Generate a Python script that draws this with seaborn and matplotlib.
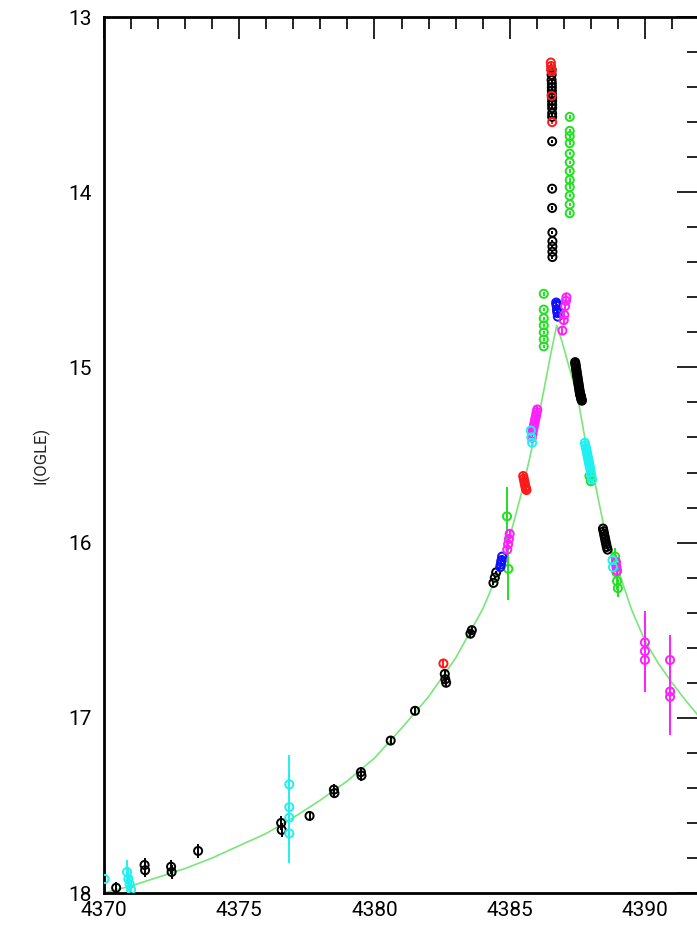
import matplotlib
matplotlib.use("Agg")
import matplotlib.pyplot as plt
import seaborn as sns
from matplotlib.ticker import MultipleLocator

# model light curve
t_model = [4370, 4371, 4372, 4373, 4374, 4375, 4376, 4377, 4378, 4379, 4380, 4381, 4382,
           4383, 4383.5, 4384, 4384.5, 4385, 4385.5, 4386, 4386.3, 4386.55, 4386.74,
           4386.95, 4387.2, 4387.5, 4387.8, 4388.1, 4388.5, 4389, 4389.5, 4390, 4390.5,
           4391, 4391.5, 4392.2]
m_model = [18.00, 17.96, 17.91, 17.86, 17.80, 17.73, 17.66, 17.57, 17.47, 17.36, 17.23, 17.06, 16.88,
           16.66, 16.52, 16.38, 16.20, 15.97, 15.68, 15.34, 15.10, 14.90, 14.76,
           14.86, 15.00, 15.16, 15.42, 15.62, 15.92, 16.15, 16.38, 16.56, 16.69,
           16.80, 16.90, 17.03]

# black
t_black = [4370.45, 4371.5, 4371.52, 4372.48, 4372.5, 4373.48, 4376.55, 4376.57, 4377.6, 4378.5,
           4378.52, 4379.5, 4379.52, 4380.6, 4381.5, 4382.6, 4382.62, 4382.65, 4383.55, 4383.6,
           4384.4, 4384.45, 4384.5,
           4386.55, 4386.55, 4386.55, 4386.56, 4386.56, 4386.56, 4386.56, 4386.57, 4386.57, 4386.57,
           4386.57, 4386.57, 4386.57, 4386.57, 4386.57, 4386.57, 4386.58, 4386.58, 4386.58, 4386.58, 4386.58,
           4387.42, 4387.43, 4387.44, 4387.45, 4387.46, 4387.47, 4387.48, 4387.49, 4387.5, 4387.51,
           4387.52, 4387.53, 4387.54, 4387.55, 4387.56, 4387.57, 4387.58, 4387.59, 4387.6, 4387.61,
           4387.62, 4387.63, 4387.64, 4387.65, 4387.66, 4387.67,
           4388.45, 4388.47, 4388.49, 4388.51, 4388.53, 4388.55, 4388.57, 4388.59, 4388.62]
m_black = [17.97, 17.84, 17.87, 17.85, 17.88, 17.76, 17.60, 17.64, 17.56, 17.41,
           17.43, 17.31, 17.33, 17.13, 16.96, 16.75, 16.78, 16.80, 16.52, 16.50,
           16.23, 16.20, 16.17,
           13.30, 13.33, 13.36, 13.38, 13.40, 13.42, 13.44, 13.46, 13.48, 13.50,
           13.52, 13.55, 13.57, 13.71, 13.98, 14.09, 14.23, 14.28, 14.31, 14.34, 14.37,
           14.97, 14.98, 14.99, 15.00, 15.01, 15.02, 15.03, 15.04, 15.05, 15.06,
           15.07, 15.08, 15.09, 15.10, 15.11, 15.12, 15.13, 15.14, 15.15, 15.155,
           15.16, 15.165, 15.17, 15.18, 15.185, 15.19,
           15.92, 15.935, 15.95, 15.965, 15.98, 15.995, 16.01, 16.025, 16.04]
e_black = [0.03, 0.04, 0.04, 0.04, 0.04, 0.04, 0.04, 0.04, 0.03, 0.03,
           0.03, 0.03, 0.03, 0.02, 0.02, 0.02, 0.02, 0.02, 0.02, 0.02,
           0.01, 0.01, 0.01] + [0.01] * 21 + [0.01] * 26 + [0.01] * 9

# red
t_red = [4382.55, 4385.5, 4385.52, 4385.54, 4385.56, 4385.58, 4385.6, 4385.62,
         4386.52, 4386.53, 4386.54, 4386.55, 4386.55, 4386.57]
m_red = [16.69, 15.62, 15.635, 15.65, 15.665, 15.68, 15.69, 15.70,
         13.26, 13.28, 13.30, 13.31, 13.45, 13.60]
e_red = [0.02] * 8 + [0.01] * 6

# green
t_green = [4387.22] * 12 + [4386.26] * 7 + [4384.9, 4384.95, 4387.95, 4388.0,
                                             4388.9, 4388.92, 4388.95, 4388.97, 4389.0]
m_green = [13.57, 13.65, 13.68, 13.72, 13.78, 13.83, 13.88, 13.93, 13.97, 14.02, 14.07, 14.12,
           14.58, 14.67, 14.72, 14.76, 14.80, 14.84, 14.88,
           15.85, 16.15, 15.62, 15.65,
           16.08, 16.12, 16.17, 16.22, 16.26]
e_green = [0.01] * 19 + [0.17, 0.18, 0.02, 0.02, 0.05, 0.05, 0.05, 0.05, 0.05]

# blue
t_blue = [4386.72, 4386.73, 4386.74, 4386.75, 4386.76, 4386.77, 4386.78,
          4384.65, 4384.67, 4384.69, 4384.7, 4384.72]
m_blue = [14.63, 14.64, 14.65, 14.67, 14.68, 14.69, 14.71,
          16.14, 16.125, 16.11, 16.10, 16.08]
e_blue = [0.01] * 12

# magenta
t_mag = [4387.0, 4387.02, 4387.05, 4387.08, 4387.1, 4386.95,
         4386.02, 4386.0, 4385.98, 4385.96, 4385.94, 4385.92, 4385.9, 4385.88, 4385.86, 4385.84, 4385.82,
         4385.0, 4384.97, 4384.94, 4384.91,
         4388.93, 4388.95, 4388.97,
         4390.0, 4390.0, 4390.0,
         4390.93, 4390.93, 4390.93]
m_mag = [14.73, 14.70, 14.65, 14.62, 14.60, 14.79,
         15.24, 15.255, 15.27, 15.285, 15.30, 15.315, 15.33, 15.345, 15.36, 15.38, 15.40,
         15.95, 15.98, 16.01, 16.04,
         16.11, 16.14, 16.16,
         16.57, 16.62, 16.67,
         16.67, 16.85, 16.88]
e_mag = [0.02] * 6 + [0.02] * 11 + [0.03] * 4 + [0.03] * 3 + [0.18, 0.2, 0.18] + [0.14, 0.25, 0.2]

# cyan
t_cyan = [4370.02, 4370.85, 4370.9, 4370.95, 4371.0,
          4376.85, 4376.85, 4376.85, 4376.85,
          4385.78, 4385.8, 4385.83,
          4387.78, 4387.8, 4387.82, 4387.84, 4387.86, 4387.88, 4387.9, 4387.92,
          4387.94, 4387.96, 4387.98, 4388.0, 4388.02, 4388.05,
          4388.8, 4388.82]
m_cyan = [17.92, 17.88, 17.92, 17.95, 17.98,
          17.38, 17.51, 17.57, 17.66,
          15.36, 15.40, 15.43,
          15.43, 15.445, 15.46, 15.475, 15.49, 15.505, 15.52, 15.535,
          15.55, 15.565, 15.58, 15.60, 15.62, 15.64,
          16.10, 16.14]
e_cyan = [0.08, 0.07, 0.07, 0.06, 0.05,
          0.17, 0.2, 0.15, 0.17,
          0.02, 0.02, 0.02] + [0.02] * 14 + [0.03, 0.03]

datasets = [
    (t_black, m_black, e_black, "black"),
    (t_red, m_red, e_red, "#ff1a1a"),
    (t_green, m_green, e_green, "#22e022"),
    (t_blue, m_blue, e_blue, "#1010ff"),
    (t_mag, m_mag, e_mag, "#ff20ff"),
    (t_cyan, m_cyan, e_cyan, "#20f0f0"),
]

sns.set_style("white")
plt.rcParams["font.family"] = ["Roboto", "DejaVu Sans"]

fig = plt.figure(figsize=(6.97, 9.31), dpi=100)
ax = fig.add_axes([104 / 697, 38 / 931, 595 / 697, 876 / 931])

sns.lineplot(x=t_model, y=m_model, ax=ax, color="#7ae67a", lw=1.2, zorder=1)

for t, m, e, c in datasets:
    ax.errorbar(t, m, yerr=e, fmt="none", ecolor=c, elinewidth=1.4, capsize=0, zorder=2)
    sns.scatterplot(x=t, y=m, ax=ax, s=34, color=c, facecolor="none",
                    edgecolor=c, linewidth=1.4, zorder=3)

ax.set_xlim(4370, 4392)
ax.set_ylim(18, 13)
ax.xaxis.set_major_locator(MultipleLocator(5))
ax.xaxis.set_minor_locator(MultipleLocator(1))
ax.yaxis.set_major_locator(MultipleLocator(1))
ax.yaxis.set_minor_locator(MultipleLocator(0.2))
ax.tick_params(which="both", direction="in", top=True, right=True, colors="black",
               labelsize=15)
ax.tick_params(which="major", length=16, width=1.2, pad=6)
ax.tick_params(which="minor", length=8.5, width=1.2)
ax.tick_params(axis="y", pad=9)
for sp in ax.spines.values():
    sp.set_color("black")
    sp.set_linewidth(2.0)

ax.set_xlabel("")
ax.set_ylabel("I(OGLE)", fontsize=12, color="#222222")
ax.yaxis.set_label_coords(-0.092, 0.5)

fig.savefig("out.png", dpi=100)
